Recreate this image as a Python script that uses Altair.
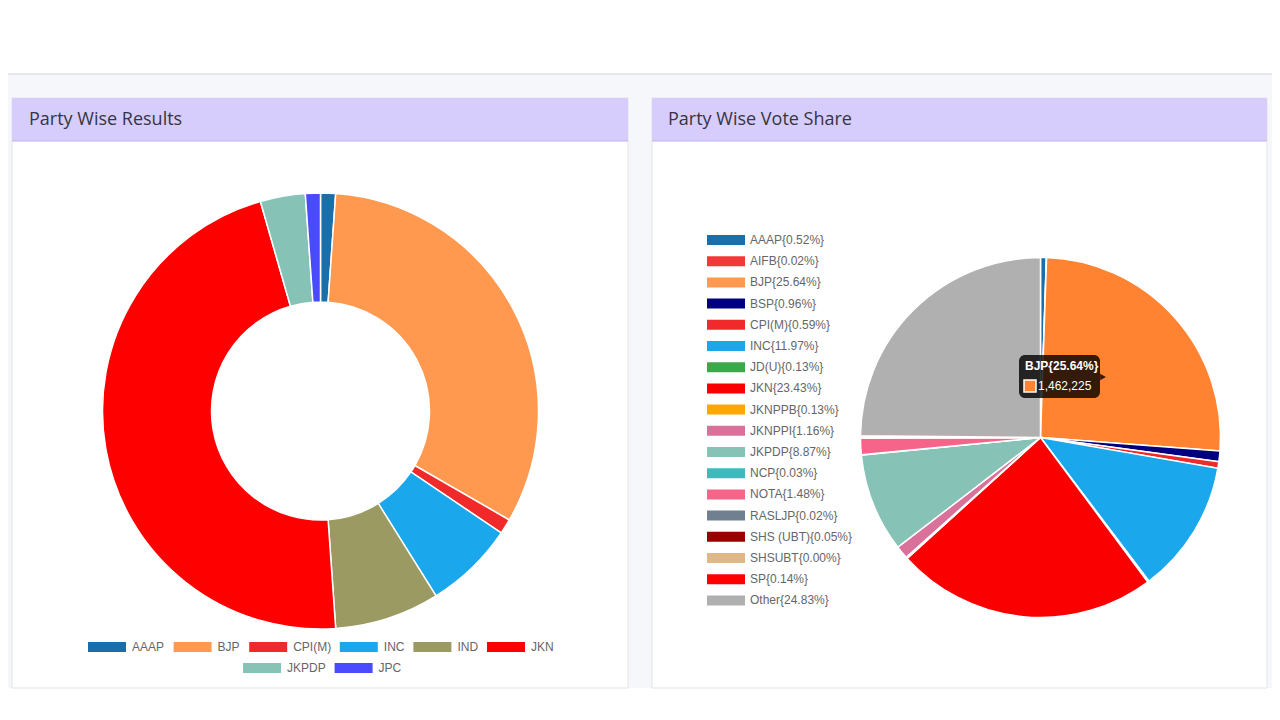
import altair as alt
import pandas as pd

# ---------------- data ----------------
left_parties = ["AAAP", "BJP", "CPI(M)", "INC", "IND", "JKN", "JKPDP", "JPC"]
left_seats = [1, 29, 1, 6, 7, 42, 3, 1]
left_colors = ["#1a6fab", "#ff9950", "#f02a2a", "#1aa7ec", "#9a9a62", "#ff0000", "#86c2b6", "#4a4aff"]

right_parties = ["AAAP", "AIFB", "BJP", "BSP", "CPI(M)", "INC", "JD(U)", "JKN", "JKNPPB",
                 "JKNPPI", "JKPDP", "NCP", "NOTA", "RASLJP", "SHS (UBT)", "SHSUBT", "SP", "Other"]
right_share = [0.52, 0.02, 25.64, 0.96, 0.59, 11.97, 0.13, 23.43, 0.13,
               1.16, 8.87, 0.03, 1.48, 0.02, 0.05, 0.00, 0.14, 24.83]
right_colors = ["#1a6fab", "#f03a3a", "#ff9a50", "#000080", "#f02a2a", "#1aa7ec", "#3da84a", "#fa0000", "#fca800",
                "#d9719a", "#86c2b6", "#42b8bc", "#f7648a", "#708090", "#990000", "#deb887", "#ff0000", "#b0b0b0"]
hover_party = "BJP"
hover_color = "#ff8330"
tooltip_title = "BJP{25.64%}"
tooltip_value = "1,462,225"

title_left = "Party Wise Results"
title_right = "Party Wise Vote Share"

left_df = pd.DataFrame({"party": left_parties, "seats": left_seats, "idx": list(range(len(left_parties)))})
right_labels = [f"{p}{{{s:.2f}%}}" for p, s in zip(right_parties, right_share)]
right_df = pd.DataFrame({"party": right_parties, "share": right_share, "label": right_labels,
                         "idx": list(range(len(right_parties)))})

one = alt.Data(values=[{}])
FONT = "Liberation Sans"
BOX = "M-3.8,-1H3.8V1H-3.8Z"

def rect(x, x2, y, y2, **kw):
    return alt.Chart(one).mark_rect(**kw).encode(
        x=alt.value(x), x2=alt.value(x2), y=alt.value(y), y2=alt.value(y2))

def label(txt, x, y, **kw):
    return alt.Chart(one).mark_text(text=txt, align="left", baseline="middle", **kw).encode(
        x=alt.value(x), y=alt.value(y))

W, H = 1264, 690

bg = rect(0, W, 66, 680, fill="#f6f7fa")
topline = alt.Chart(one).mark_rule(color="#e2e2e6", strokeWidth=1.5).encode(
    x=alt.value(0), x2=alt.value(W), y=alt.value(66))
card_l = rect(4, 620, 90, 680, fill="white", stroke="#e4e4ea", strokeWidth=1)
card_r = rect(644, 1259, 90, 680, fill="white", stroke="#e4e4ea", strokeWidth=1)
head_l = rect(4, 620, 90, 133, fill="#d7cdfc")
head_r = rect(644, 1259, 90, 133, fill="#d7cdfc")
hline_l = alt.Chart(one).mark_rule(color="#bfb2f0", strokeWidth=1).encode(
    x=alt.value(4), x2=alt.value(620), y=alt.value(133))
hline_r = alt.Chart(one).mark_rule(color="#bfb2f0", strokeWidth=1).encode(
    x=alt.value(644), x2=alt.value(1259), y=alt.value(133))
t_l = label(title_left, 21, 112, font="Open Sans", fontSize=18, color="#353545")
t_r = label(title_right, 660, 112, font="Open Sans", fontSize=18, color="#353545")

def legend_common(**kw):
    return alt.Legend(title=None, orient="none", symbolType=BOX, symbolSize=100,
                      symbolStrokeWidth=0, symbolOpacity=1, labelFont=FONT, labelFontSize=12,
                      labelColor="#666666", padding=0, **kw)

def donut(values, lx, ly):
    return alt.Chart(left_df).mark_arc(innerRadius=109, outerRadius=218, stroke="white", strokeWidth=1.5).encode(
        theta=alt.Theta("seats:Q", stack=True),
        order=alt.Order("idx:Q"),
        color=alt.Color("party:N", scale=alt.Scale(domain=left_parties, range=left_colors),
                        legend=legend_common(values=values, direction="horizontal", labelOffset=19,
                                             legendX=lx, legendY=ly, columnPadding=8.6)),
        x=alt.value(312.5), y=alt.value(403),
    )

donut1 = donut(left_parties[:6], 93, 633)
donut2 = donut(left_parties[6:], 248, 654)

pie = alt.Chart(right_df).mark_arc(outerRadius=180, stroke="white", strokeWidth=1.5).encode(
    theta=alt.Theta("share:Q", stack=True),
    order=alt.Order("idx:Q"),
    color=alt.when(alt.datum.party == hover_party).then(alt.value(hover_color)).otherwise(
        alt.Color("label:N", scale=alt.Scale(domain=right_labels, range=right_colors),
                  legend=legend_common(direction="vertical", legendX=712, legendY=226,
                                       rowPadding=9.2, labelOffset=18))),
    x=alt.value(1032.5), y=alt.value(429.5),
)

tip_box = rect(1011, 1092, 347, 390, fill="black", opacity=0.8, cornerRadius=6)
tip_caret = alt.Chart(one).mark_point(shape="triangle-right", filled=True, fill="black", opacity=0.8,
                                      size=45, strokeWidth=0).encode(x=alt.value(1095), y=alt.value(369))
tip_sq = rect(1016, 1028, 372, 384, fill=hover_color, stroke="white", strokeWidth=1.5)
tip_t1 = label(tooltip_title, 1017, 358, font=FONT, fontSize=12, fontWeight="bold", color="white")
tip_t2 = label(tooltip_value, 1030, 378, font=FONT, fontSize=12, color="white")

chart = alt.layer(
    bg, topline, card_l, card_r, head_l, head_r, hline_l, hline_r, t_l, t_r,
    donut1, donut2, pie, tip_box, tip_caret, tip_sq, tip_t1, tip_t2,
).resolve_scale(color="independent", theta="independent").properties(
    width=W, height=H, padding=0, autosize=alt.AutoSizeParams(type="none"),
    background="white",
).configure_view(stroke=None)

chart.save("out.html", embed_options={"renderer": "svg", "actions": False})
